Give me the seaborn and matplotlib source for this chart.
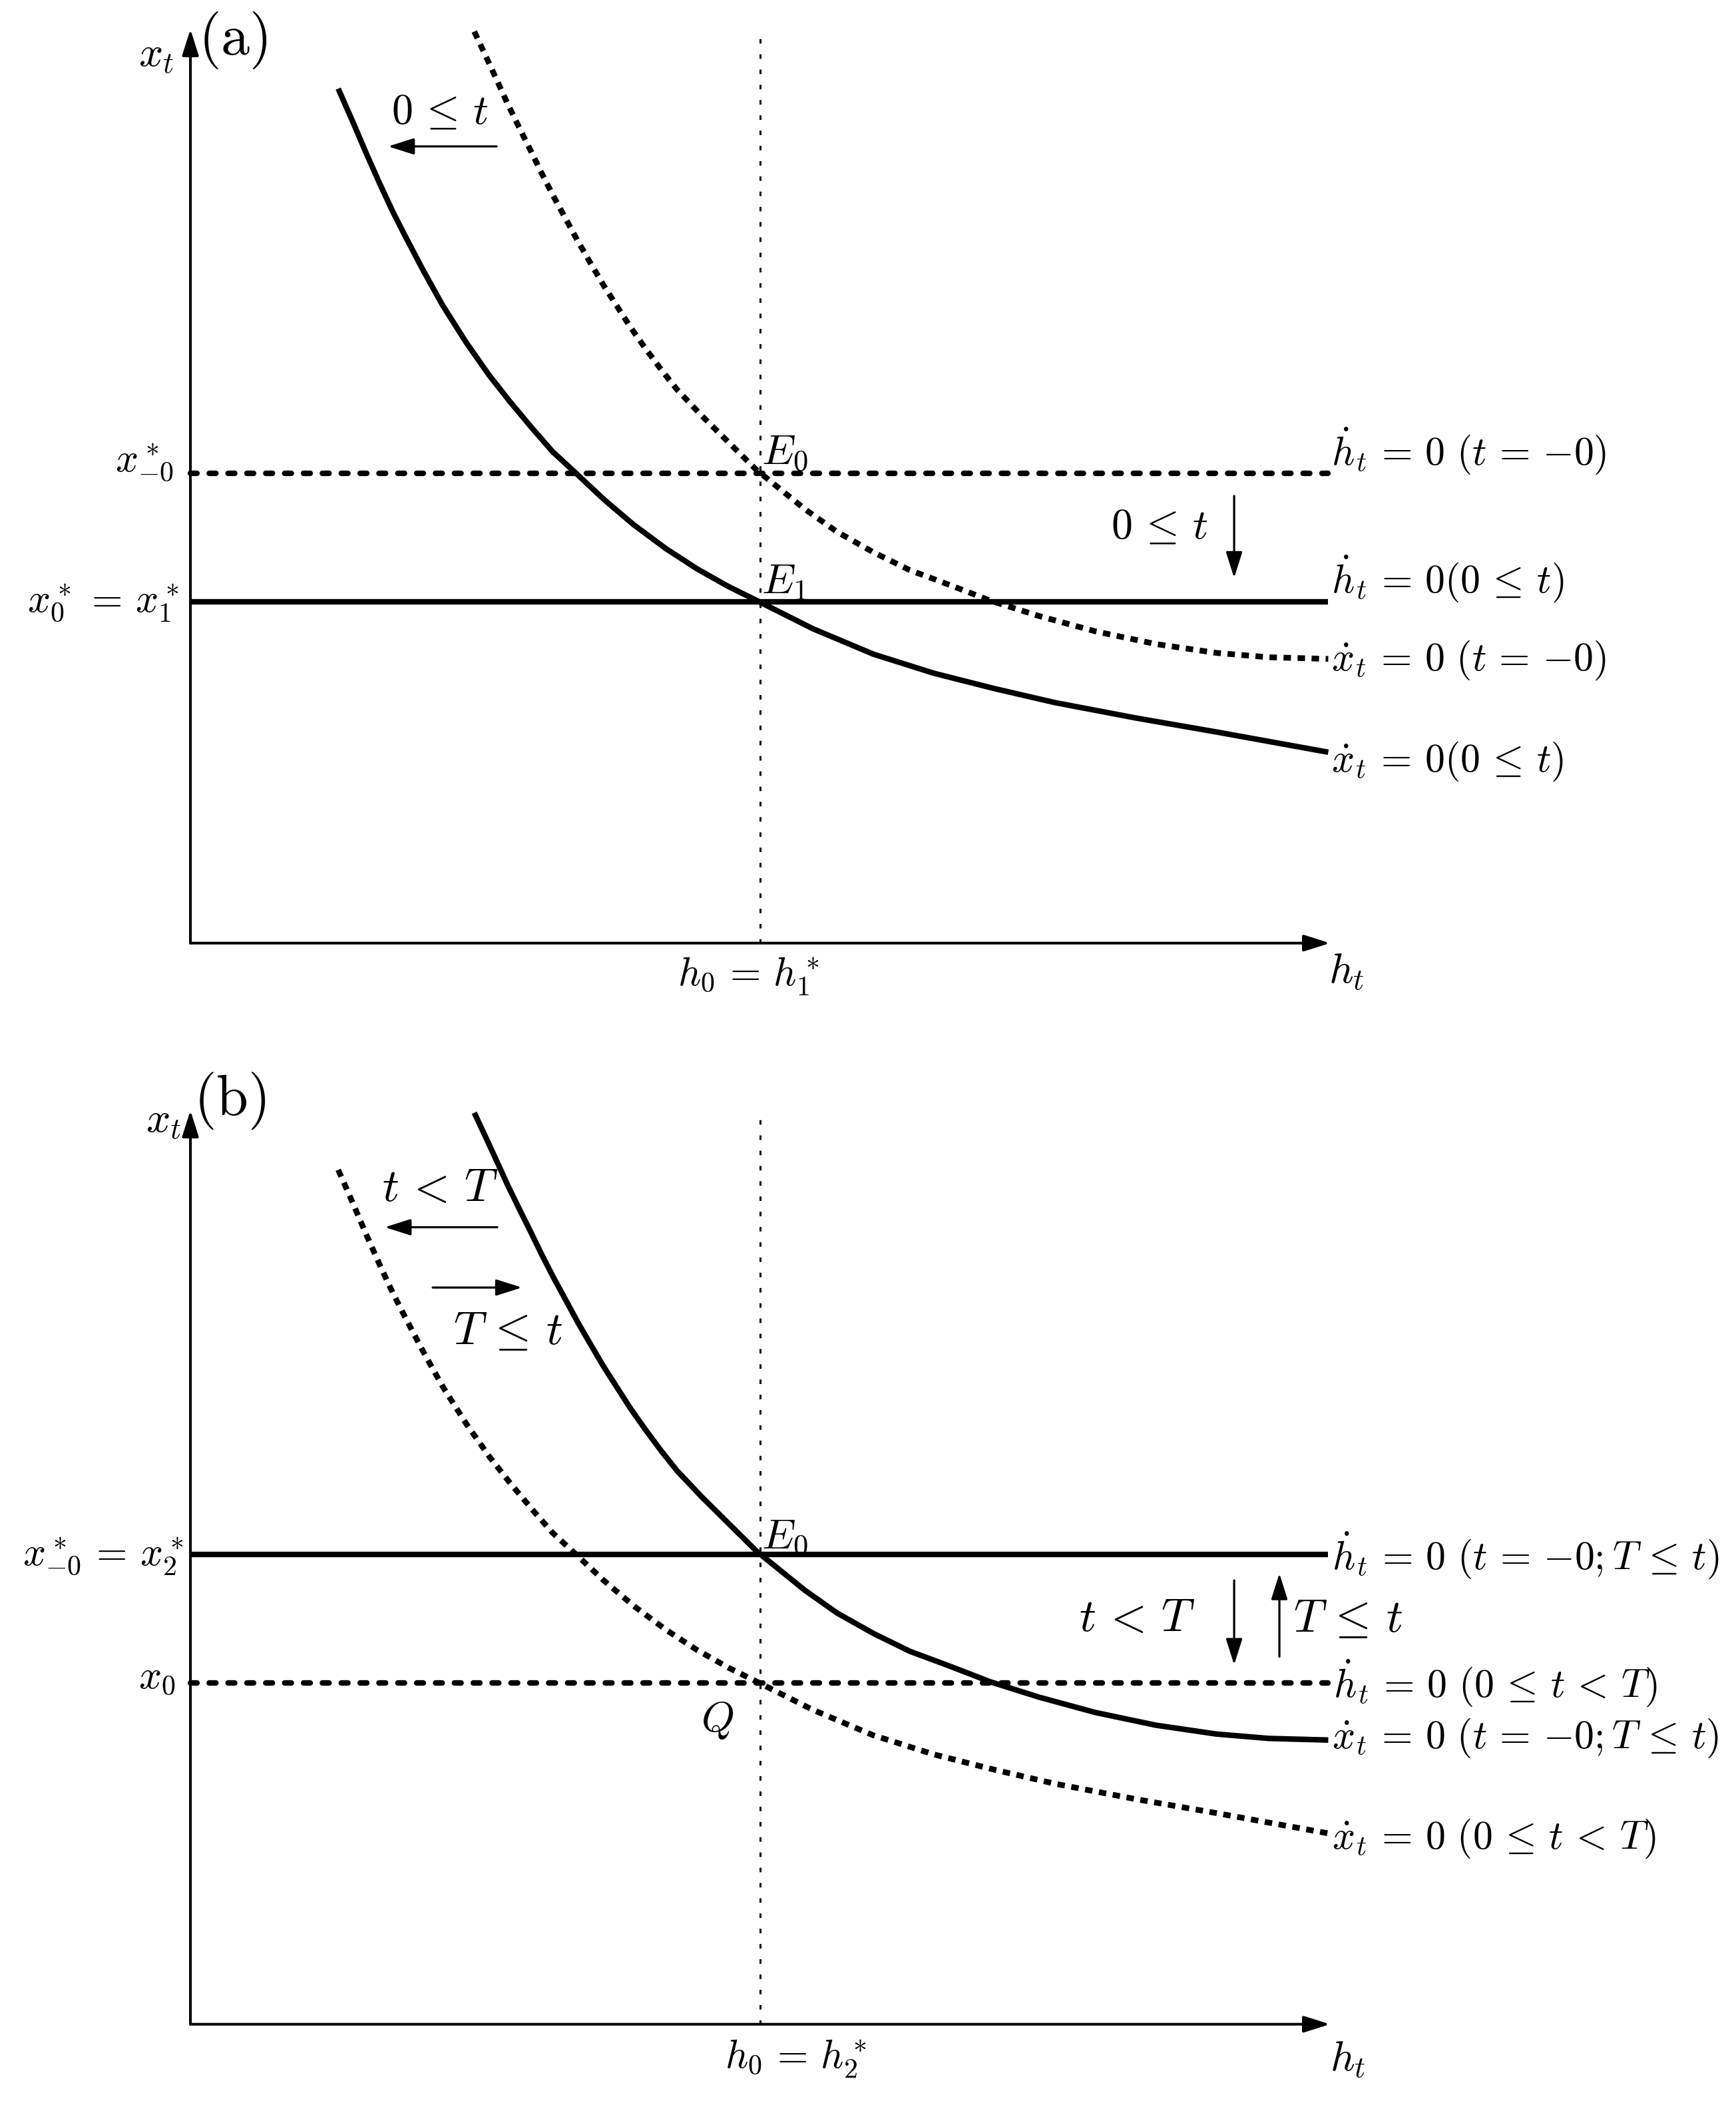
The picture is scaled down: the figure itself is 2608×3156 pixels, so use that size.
import matplotlib
matplotlib.use("Agg")
import matplotlib.pyplot as plt
import seaborn as sns

# curves, axis units: h0 = 5, both axes end at 10
# left curve (solid in (a), dotted in (b))
h_left = [1.297, 1.425, 1.542, 1.659, 1.776, 1.875, 2.039, 2.211, 2.418, 2.621,
          2.804, 2.994, 3.178, 3.384, 3.633, 3.887, 4.171, 4.445, 4.720, 4.992,
          5.461, 5.993, 6.524, 7.056, 7.586, 8.294, 9.001, 9.533, 9.985]
x_left = [9.350, 8.987, 8.645, 8.317, 8.003, 7.760, 7.370, 6.984, 6.576, 6.215,
          5.925, 5.641, 5.378, 5.141, 4.850, 4.581, 4.318, 4.096, 3.903, 3.735,
          3.441, 3.162, 2.953, 2.785, 2.632, 2.464, 2.311, 2.191, 2.089]

# right curve (dotted in (a), solid in (b))
h_right = [2.491, 2.599, 2.693, 2.786, 2.886, 2.985, 3.078, 3.183, 3.294, 3.400,
           3.510, 3.627, 3.747, 3.867, 3.995, 4.133, 4.269, 4.484, 4.968, 5.391,
           5.675, 5.993, 6.312, 6.665, 7.020, 7.445, 7.940, 8.470, 9.001, 9.461, 9.985]
x_right = [9.975, 9.687, 9.432, 9.177, 8.922, 8.674, 8.435, 8.179, 7.924, 7.680,
           7.443, 7.195, 6.962, 6.729, 6.503, 6.272, 6.059, 5.775, 5.177, 4.750,
           4.500, 4.277, 4.082, 3.918, 3.747, 3.580, 3.412, 3.273, 3.176, 3.128, 3.110]

# horizontal lines (h_t dot = 0) and their span
level_high = 5.14
level_low = 3.735
h_span = [0.0, 9.985]
h_star = 5.0
axis_top = 10.0

sns.set_style("white")
plt.rcParams["mathtext.fontset"] = "cm"
plt.rcParams["font.family"] = ["DejaVu Sans"]

SOLID = dict(color="black", linewidth=6.0, solid_capstyle="butt")
DOTTED = dict(color="black", linewidth=6.2, linestyle=(0, (1.3, 1.15)), dash_capstyle="butt")
DASHED = dict(color="black", linewidth=6.0, linestyle=(0, (1.2, 2.2)), dash_capstyle="round")
FS = 43


def arrow(ax, start, end, lw=2.3):
    ax.annotate("", xy=end, xytext=start, annotation_clip=False,
                arrowprops=dict(arrowstyle="-|>,head_length=1.2,head_width=0.38",
                                lw=lw, color="black", shrinkA=0, shrinkB=0,
                                mutation_scale=20))


def draw_frame(ax):
    sns.lineplot(x=[h_star, h_star], y=[0, axis_top], ax=ax, estimator=None, sort=False,
                 orient="y", color="black", linewidth=2.2,
                 linestyle=(0, (2.2, 5.3)), dash_capstyle="butt")
    arrow(ax, (0, 0), (10, 0), lw=2.9)
    arrow(ax, (0, 0), (0, axis_top), lw=2.9)
    ax.set_xlim(-1.671, 13.563)
    ax.axis("off")


def label(ax, x, y, s, ha="center", va="center", size=FS):
    ax.text(x, y, s, ha=ha, va=va, fontsize=size, color="black")


fig = plt.figure(figsize=(26.08, 31.56), dpi=100)
ax_a = fig.add_axes([0, 0.5, 1, 0.5])
ax_b = fig.add_axes([0, 0, 1, 0.5])

# ---- panel (a)
sns.lineplot(x=h_span, y=[level_high] * 2, ax=ax_a, **DASHED)
sns.lineplot(x=h_span, y=[level_low] * 2, ax=ax_a, **SOLID)
sns.lineplot(x=h_right, y=x_right, ax=ax_a, **DOTTED)
sns.lineplot(x=h_left, y=x_left, ax=ax_a, **SOLID)
draw_frame(ax_a)
ax_a.set_ylim(-1.175, 10.32)

label(ax_a, -0.146, 9.712, r"$x_t$", ha="right", size=46)
label(ax_a, 0.07, 9.876, r"$\mathrm{(a)}$", ha="left", size=62)
label(ax_a, -0.146, 5.264, r"$x^*_{-0}$", ha="right")
label(ax_a, -0.099, 3.727, r"$x^*_0 \,=\, x^*_1$", ha="right")
label(ax_a, 4.895, -0.368, r"$h_0 \,=\, h^*_1$")
label(ax_a, 10.146, -0.316, r"$h_t$", size=46)
label(ax_a, 5.01, 5.367, r"$E_0$", ha="left", size=46)
label(ax_a, 5.01, 3.961, r"$E_1$", ha="left", size=46)
label(ax_a, 2.19, 9.096, r"$0 \,\leq\, t$", size=46)
label(ax_a, 8.505, 4.558, r"$0 \,\leq\, t$", size=46)
label(ax_a, 10.01, 5.389, r"$\dot{h}_t \,=\, 0\ (t \,=\, {-0})$", ha="left")
label(ax_a, 10.01, 3.990, r"$\dot{h}_t \,=\, 0(0 \,\leq\, t)$", ha="left")
label(ax_a, 10.01, 3.098, r"$\dot{x}_t \,=\, 0\ (t \,=\, {-0})$", ha="left")
label(ax_a, 10.01, 1.985, r"$\dot{x}_t \,=\, 0(0 \,\leq\, t)$", ha="left")
arrow(ax_a, (2.687, 8.718), (1.735, 8.718))
arrow(ax_a, (9.159, 4.893), (9.159, 3.997))

# ---- panel (b)
sns.lineplot(x=h_span, y=[level_high] * 2, ax=ax_b, **SOLID)
sns.lineplot(x=h_span, y=[level_low] * 2, ax=ax_b, **DASHED)
sns.lineplot(x=h_left, y=x_left, ax=ax_b, **DOTTED)
sns.lineplot(x=h_right, y=x_right, ax=ax_b, **SOLID)
draw_frame(ax_b)
ax_b.set_ylim(-0.840, 10.656)

label(ax_b, -0.08, 9.884, r"$x_t$", ha="right", size=46)
label(ax_b, 0.03, 10.108, r"$\mathrm{(b)}$", ha="left", size=62)
label(ax_b, -0.064, 5.123, r"$x^*_{-0} \,=\, x^*_2$", ha="right")
label(ax_b, -0.134, 3.80, r"$x_0$", ha="right")
label(ax_b, 5.315, -0.38, r"$h_0 \,=\, h^*_2$")
label(ax_b, 10.158, -0.389, r"$h_t$", size=46)
label(ax_b, 5.01, 5.331, r"$E_0$", ha="left", size=46)
label(ax_b, 4.626, 3.329, r"$Q$", size=46)
label(ax_b, 2.19, 9.155, r"$t \,<\, T$", size=50)
label(ax_b, 2.786, 7.582, r"$T \,\leq\, t$", size=50)
label(ax_b, 8.306, 4.449, r"$t \,<\, T$", size=50)
label(ax_b, 10.158, 4.434, r"$T \,\leq\, t$", size=50)
label(ax_b, 10.02, 5.134, r"$\dot{h}_t \,=\, 0\ (t \,=\, {-0}; T \,\leq\, t)$", ha="left")
label(ax_b, 10.03, 3.735, r"$\dot{h}_t \,=\, 0\ (0 \,\leq\, t \,<\, T)$", ha="left")
label(ax_b, 10.02, 3.131, r"$\dot{x}_t \,=\, 0\ (t \,=\, {-0}; T \,\leq\, t)$", ha="left")
label(ax_b, 10.02, 2.030, r"$\dot{x}_t \,=\, 0\ (0 \,\leq\, t \,<\, T)$", ha="left")
arrow(ax_b, (2.693, 8.722), (1.706, 8.722))
arrow(ax_b, (2.126, 8.062), (2.909, 8.062))
arrow(ax_b, (9.159, 4.857), (9.159, 3.934))
arrow(ax_b, (9.556, 4.022), (9.556, 4.933))

fig.savefig("out.png", dpi=100, facecolor="white")
